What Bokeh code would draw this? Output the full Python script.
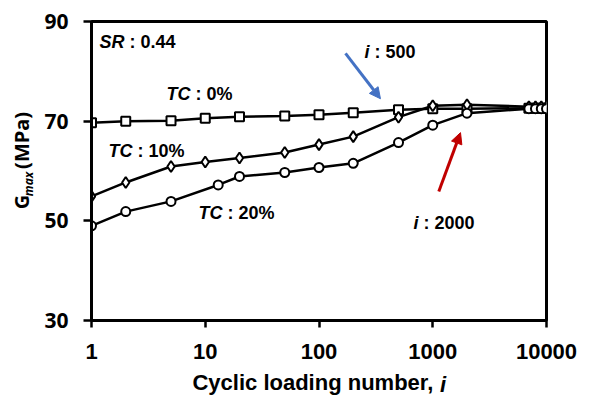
from bokeh.plotting import figure
from bokeh.models import Range1d, FixedTicker, CustomJSTickFormatter, Label, Arrow, NormalHead
from bokeh.embed import file_html
from bokeh.resources import INLINE

# ---- data ----
cycles_tc0 = [1, 2, 5, 10, 20, 50, 100, 200, 500, 1000, 2000, 7000, 8000, 9000, 10000]
gmax_tc0 = [69.7, 70.0, 70.1, 70.6, 70.9, 71.05, 71.3, 71.7, 72.3, 72.5, 72.5, 72.6, 72.6, 72.6, 72.6]

cycles_tc10 = [1, 2, 5, 10, 20, 50, 100, 200, 500, 1000, 2000, 7000, 8000, 9000, 10000]
gmax_tc10 = [54.9, 57.7, 60.9, 61.8, 62.6, 63.7, 65.3, 66.9, 70.8, 73.1, 73.3, 72.9, 72.9, 72.9, 72.9]

cycles_tc20 = [1, 2, 5, 13, 20, 50, 100, 200, 500, 1000, 2000, 7000, 8000, 9000, 10000]
gmax_tc20 = [49.0, 51.85, 53.9, 57.2, 58.9, 59.7, 60.7, 61.55, 65.7, 69.2, 71.6, 72.5, 72.5, 72.5, 72.5]

x_ticks = [1, 10, 100, 1000, 10000]
y_ticks = [30, 50, 70, 90]

FONT = "Liberation Sans"
NB = "\u00a0"

p = figure(width=590, height=398, x_axis_type="log",
           x_range=Range1d(1, 10000), y_range=Range1d(30, 90),
           output_backend="svg", toolbar_location=None,
           min_border_left=91, min_border_right=44, min_border_top=21, min_border_bottom=78)
p.background_fill_color = "white"
p.border_fill_color = "white"
p.xgrid.visible = False
p.ygrid.visible = False
p.outline_line_color = "black"
p.outline_line_width = 3

for ax in (p.xaxis[0], p.yaxis[0]):
    ax.axis_line_width = 3
    ax.major_tick_line_width = 2.5
    ax.major_tick_in = 0
    ax.minor_tick_line_color = None
    ax.major_label_text_color = "black"
    ax.major_label_text_font_style = "bold"
    ax.axis_label_text_color = "black"
    ax.axis_label_text_font_style = "bold"

p.xaxis.ticker = FixedTicker(ticks=x_ticks, minor_ticks=[])
p.yaxis.ticker = FixedTicker(ticks=y_ticks, minor_ticks=[])
p.xaxis.formatter = CustomJSTickFormatter(code="return tick.toFixed(0);")
p.xaxis.major_tick_out = 7
p.yaxis.major_tick_out = 8
p.xaxis.major_label_text_font = FONT
p.xaxis.major_label_text_font_size = "22px"
p.xaxis.major_label_standoff = 16
p.yaxis.major_label_text_font = "Open Sans"
p.yaxis.major_label_text_font_size = "21px"
p.yaxis.major_label_standoff = 15

# axis titles (the italic / subscript parts are separate labels below)
p.xaxis.axis_label = "Cyclic loading number," + NB + NB
p.xaxis.axis_label_text_font = FONT
p.xaxis.axis_label_text_font_size = "22px"
p.xaxis.axis_label_standoff = 8
p.yaxis.axis_label = NB * 4 + "G" + NB * 5 + "(MPa)"
p.yaxis.axis_label_text_font = "Open Sans"
p.yaxis.axis_label_text_font_size = "20px"
p.yaxis.axis_label_standoff = 6

# ---- series ----
p.line(cycles_tc0, gmax_tc0, line_color="black", line_width=2.5)
p.scatter(cycles_tc0, gmax_tc0, marker="square", size=9, line_color="black", line_width=2, fill_color="white")
p.line(cycles_tc10, gmax_tc10, line_color="black", line_width=2.5)
p.scatter(cycles_tc10, gmax_tc10, marker="diamond", size=11, line_color="black", line_width=2, fill_color="white")
p.line(cycles_tc20, gmax_tc20, line_color="black", line_width=2.5)
p.scatter(cycles_tc20, gmax_tc20, marker="circle", size=9, line_color="black", line_width=2, fill_color="white")

# ---- annotations ----
def two_part(x, y, italic, rest, size="18px"):
    p.add_layout(Label(x=x, y=y, text=italic, text_font=FONT, text_font_style="bold italic",
                       text_font_size=size, text_align="right", text_baseline="middle",
                       text_color="black"))
    p.add_layout(Label(x=x, y=y, text=rest, text_font=FONT, text_font_style="bold",
                       text_font_size=size, text_align="left", text_baseline="middle",
                       text_color="black"))

two_part(1.95, 85.79, "SR", NB + ":" + NB + "0.44")
two_part(7.42, 75.45, "TC", NB + ":" + NB + "0%")
two_part(2.29, 64.11, "TC", NB + ":" + NB + "10%")
two_part(14.2, 51.57, "TC", NB + ":" + NB + "20%")
two_part(278, 83.78, "i", NB + ":" + NB + "500")
two_part(749, 49.56, "i", NB + ":" + NB + "2000")

p.add_layout(Arrow(x_start=171, y_start=83.6, x_end=347, y_end=74.5,
                   line_color="#4472C4", line_width=3,
                   end=NormalHead(size=11, line_color="#4472C4", fill_color="#4472C4")))
p.add_layout(Arrow(x_start=1130, y_start=55.9, x_end=1754, y_end=67.7,
                   line_color="#C00000", line_width=3,
                   end=NormalHead(size=11, line_color="#C00000", fill_color="#C00000")))

# italic "i" of the x title and subscript "max" of the y title; kept in the
# right side panel (which has room) so that the frame does not clip them
p.add_layout(Label(x=1158, y=17.15, text="i",
                   text_font=FONT, text_font_style="bold italic", text_font_size="22px",
                   text_align="left", text_baseline="middle", text_color="black"), "right")
p.add_layout(Label(x=0.279, y=57.39, text="max", angle=1.5707963, text_font="Open Sans",
                   text_font_style="bold italic", text_font_size="12px", text_align="center",
                   text_baseline="middle", text_color="black"), "right")

open("out.html", "w").write(file_html(p, INLINE))
